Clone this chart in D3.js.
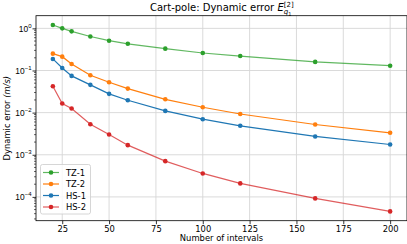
<!DOCTYPE html>
<html><head><meta charset="utf-8">
<script src="https://cdn.jsdelivr.net/npm/d3@7"></script>
<style>
html,body{margin:0;padding:0;background:#fff;}
svg{display:block;font-family:"DejaVu Sans",sans-serif;}
</style></head>
<body><svg id="c" width="407" height="244"></svg>
<script>
const intervals = [20, 25, 30, 40, 50, 60, 80, 100, 120, 160, 200];
const seriesNames = ["TZ-1", "TZ-2", "HS-1", "HS-2"];
const tz1 = [1.20, 1.00, 0.85, 0.64, 0.51, 0.43, 0.33, 0.26, 0.22, 0.16, 0.13];
const tz2 = [0.251, 0.213, 0.143, 0.0769, 0.0525, 0.0372, 0.0207, 0.0134, 0.00927, 0.00523, 0.00332];
const hs1 = [0.188, 0.115, 0.0745, 0.0456, 0.0279, 0.0197, 0.0110, 0.00698, 0.00487, 0.00272, 0.00175];
const hs2 = [0.0422, 0.0164, 0.0125, 0.00531, 0.00303, 0.00169, 0.000705, 0.000360, 0.000209, 0.0000921, 0.0000453];
const xTicks = [25, 50, 75, 100, 125, 150, 175, 200];
const yTickExps = [-4, -3, -2, -1, 0];

const seriesValues = [tz1, tz2, hs1, hs2];
const colors = ["#2ca02c", "#ff7f0e", "#1f77b4", "#d62728"];
const lineOpacity = [0.75, 1, 1, 0.75];

const svg = d3.select("#c");
const L = 36, R = 407, T = 15.7, B = 220.7;

const xMin = d3.min(intervals), xMax = d3.max(intervals);
const xPad = (xMax - xMin) * 0.05;
const x = d3.scaleLinear().domain([xMin - xPad, xMax + xPad]).range([L, R]);
const allV = seriesValues.flat();
const lmin = Math.log10(d3.min(allV)), lmax = Math.log10(d3.max(allV));
const lp = (lmax - lmin) * 0.05;
const y = d3.scaleLog().domain([Math.pow(10, lmin - lp), Math.pow(10, lmax + lp)]).range([B, T]);

// grid
const g = svg.append("g");
xTicks.forEach(t => g.append("line").attr("x1", x(t)).attr("x2", x(t)).attr("y1", T).attr("y2", B)
  .attr("stroke", "#d6d6d6").attr("stroke-width", 0.9));
yTickExps.forEach(e => g.append("line").attr("x1", L).attr("x2", R).attr("y1", y(Math.pow(10, e))).attr("y2", y(Math.pow(10, e)))
  .attr("stroke", "#d6d6d6").attr("stroke-width", 0.9));

// axes via d3
const xAxis = d3.axisBottom(x).tickValues(xTicks).tickSize(3.5).tickPadding(2).tickFormat(d3.format("d"));
const xg = svg.append("g").attr("transform", `translate(0,${B})`).call(xAxis);
xg.select(".domain").remove();
xg.selectAll("text").attr("font-size", 8.4).attr("fill", "#000").attr("font-family", "DejaVu Sans");
xg.selectAll("line").attr("stroke", "#000").attr("stroke-width", 0.8);

const yAxis = d3.axisLeft(y).tickValues(yTickExps.map(e => Math.pow(10, e))).tickSize(3.5).tickPadding(2).tickFormat("");
const yg = svg.append("g").attr("transform", `translate(${L},0)`).call(yAxis);
yg.select(".domain").remove();
yg.selectAll("line").attr("stroke", "#000").attr("stroke-width", 0.8);
yg.selectAll(".tick").each(function(d) {
  const e = Math.round(Math.log10(d));
  const t = d3.select(this).append("text").attr("x", -4.5).attr("y", 3).attr("text-anchor", "end")
    .attr("font-size", 8.4).attr("fill", "#000");
  t.append("tspan").text("10");
  t.append("tspan").attr("dy", -4).attr("font-size", 6).text(e < 0 ? "\u2212" + (-e) : String(e));
});
// minor ticks
const [d0, d1] = y.domain();
const minor = [];
for (let e = Math.floor(Math.log10(d0)); e <= Math.ceil(Math.log10(d1)); e++)
  for (let m = 2; m <= 9; m++) { const v = m * Math.pow(10, e); if (v >= d0 && v <= d1) minor.push(v); }
svg.append("g").selectAll("line").data(minor).join("line")
  .attr("x1", L - 2).attr("x2", L).attr("y1", d => y(d)).attr("y2", d => y(d))
  .attr("stroke", "#000").attr("stroke-width", 0.6);

// series
const line = d3.line().x((d, i) => x(intervals[i])).y(d => y(d));
seriesValues.forEach((vals, k) => {
  const sg = svg.append("g");
  sg.append("path").attr("d", line(vals)).attr("fill", "none").attr("stroke", colors[k])
    .attr("stroke-width", 1.2).attr("stroke-opacity", lineOpacity[k]);
  sg.selectAll("circle").data(vals).join("circle")
    .attr("cx", (d, i) => x(intervals[i])).attr("cy", d => y(d)).attr("r", 2.3).attr("fill", colors[k]);
});

// spines
svg.append("rect").attr("x", L).attr("y", T).attr("width", R - L).attr("height", B - T)
  .attr("fill", "none").attr("stroke", "#000").attr("stroke-width", 0.8);

// legend
const lg = svg.append("g");
lg.append("rect").attr("x", 40.5).attr("y", 164.5).attr("width", 50).attr("height", 49.5).attr("rx", 2)
  .attr("fill", "#fff").attr("fill-opacity", 0.8).attr("stroke", "#cccccc").attr("stroke-width", 0.8);
seriesNames.forEach((n, k) => {
  const yy = 172.5 + k * 11.5;
  lg.append("line").attr("x1", 43).attr("x2", 59).attr("y1", yy).attr("y2", yy)
    .attr("stroke", colors[k]).attr("stroke-width", 1.2).attr("stroke-opacity", lineOpacity[k]);
  lg.append("circle").attr("cx", 51).attr("cy", yy).attr("r", 2.3).attr("fill", colors[k]);
  lg.append("text").attr("x", 66).attr("y", yy + 3).attr("font-size", 8.4).attr("fill", "#000").text(n);
});

// axis labels
svg.append("text").attr("x", (L + R) / 2).attr("y", 241).attr("text-anchor", "middle")
  .attr("font-size", 8.4).attr("fill", "#000").text("Number of intervals");
const yl = svg.append("text").attr("transform", `translate(9.5,${(T + B) / 2}) rotate(-90)`).attr("text-anchor", "middle")
  .attr("font-size", 8.4).attr("fill", "#000");
yl.append("tspan").text("Dynamic error ");
yl.append("tspan").attr("font-style", "italic").text("(m/s)");

// title
const tt = svg.append("text").attr("x", 150).attr("y", 11).attr("font-size", 10).attr("fill", "#000");
tt.append("tspan").text("Cart-pole: Dynamic error ");
tt.append("tspan").attr("font-style", "italic").text("E");
const sup = tt.append("tspan").attr("dy", -4.5).attr("font-size", 7).text("[2]");
const supLen = sup.node().getComputedTextLength();
tt.append("tspan").attr("dx", -supLen).attr("dy", 7.5).attr("font-size", 7).attr("font-style", "italic").text("q");
tt.append("tspan").attr("dy", 1.5).attr("font-size", 5).text("1");
</script></body></html>
